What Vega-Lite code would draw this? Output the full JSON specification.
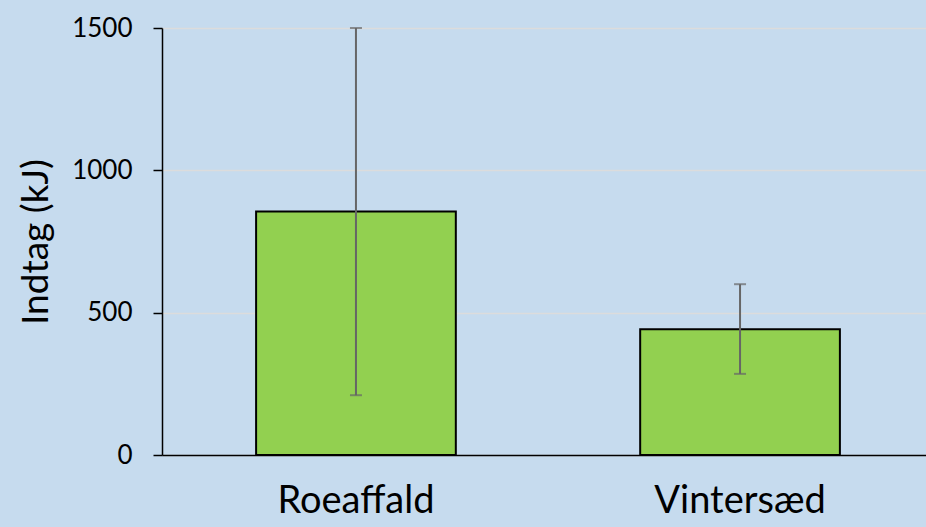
{
  "$schema": "https://vega.github.io/schema/vega-lite/v6.json",
  "width": 772,
  "height": 427,
  "autosize": {"type": "none"},
  "padding": {"left": 162, "top": 28, "right": 0, "bottom": 72},
  "background": "#c6dbee",
  "config": {
    "view": {"stroke": null},
    "font": "Lato"
  },
  "data": {
    "values": [
      {"kategori": "Roeaffald", "indtag": 855, "lav": 210, "hoej": 1500},
      {"kategori": "Vintersæd", "indtag": 442, "lav": 285, "hoej": 600}
    ]
  },
  "encoding": {
    "x": {
      "field": "kategori",
      "type": "nominal",
      "sort": null,
      "scale": {"paddingInner": 0.48, "paddingOuter": 0.245},
      "axis": {
        "title": null,
        "labelAngle": 0,
        "labelFontSize": 38,
        "labelColor": "#000000",
        "labelPadding": 27,
        "ticks": false,
        "domainColor": "#000000",
        "domainWidth": 1.5
      }
    }
  },
  "layer": [
    {
      "mark": {"type": "bar", "fill": "#92d050", "stroke": "#000000", "strokeWidth": 2},
      "encoding": {
        "y": {
          "field": "indtag",
          "type": "quantitative",
          "scale": {"domain": [0, 1500], "nice": false},
          "axis": {
            "title": "Indtag (kJ)",
            "titleFontSize": 37,
            "titleFontWeight": "normal",
            "titleColor": "#000000",
            "titlePadding": 16,
            "values": [0, 500, 1000, 1500],
            "format": "d",
            "labelFontSize": 26,
            "labelColor": "#000000",
            "labelPadding": 21,
            "tickSize": 9,
            "tickColor": "#000000",
            "tickWidth": 1.5,
            "domainColor": "#000000",
            "domainWidth": 1.5,
            "grid": true,
            "gridColor": "#dcdcdc",
            "gridWidth": 1.5
          }
        }
      }
    },
    {
      "mark": {"type": "rule", "color": "#666666", "strokeWidth": 2},
      "encoding": {
        "y": {"field": "lav", "type": "quantitative"},
        "y2": {"field": "hoej"}
      }
    },
    {
      "mark": {"type": "tick", "color": "#666666", "thickness": 2, "size": 12, "orient": "horizontal"},
      "encoding": {
        "y": {"field": "lav", "type": "quantitative"}
      }
    },
    {
      "mark": {"type": "tick", "color": "#666666", "thickness": 2, "size": 12, "orient": "horizontal"},
      "encoding": {
        "y": {"field": "hoej", "type": "quantitative"}
      }
    }
  ]
}
